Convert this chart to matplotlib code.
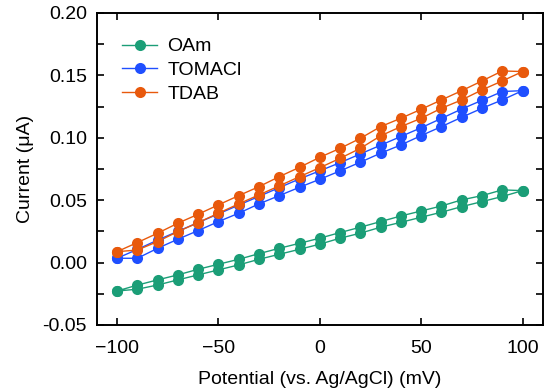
import matplotlib
matplotlib.use("Agg")
import matplotlib.pyplot as plt
from matplotlib.ticker import MultipleLocator, FixedLocator

plt.rcParams['font.family'] = ['Liberation Sans', 'DejaVu Sans']

potential = [-100, -90, -80, -70, -60, -50, -40, -30, -20, -10, 0,
             10, 20, 30, 40, 50, 60, 70, 80, 90, 100]

oam_fwd = [-0.0228, -0.0214, -0.0180, -0.0139, -0.0099, -0.0059, -0.0019, 0.0026, 0.0066, 0.0106, 0.0147,
           0.0195, 0.0235, 0.0283, 0.0322, 0.0363, 0.0403, 0.0448, 0.0488, 0.0529, 0.0576]
oam_rev = [-0.0228, -0.0181, -0.0139, -0.0099, -0.0054, -0.0014, 0.0026, 0.0071, 0.0114, 0.0154, 0.0195,
           0.0240, 0.0283, 0.0328, 0.0373, 0.0413, 0.0453, 0.0502, 0.0536, 0.0582, 0.0576]

tomacl_fwd = [0.0034, 0.0034, 0.0114, 0.0187, 0.0256, 0.0328, 0.0395, 0.0470, 0.0536, 0.0603, 0.0667,
              0.0734, 0.0804, 0.0876, 0.0942, 0.1017, 0.1089, 0.1164, 0.1236, 0.1303, 0.1377]
tomacl_rev = [0.0034, 0.0105, 0.0180, 0.0250, 0.0320, 0.0390, 0.0460, 0.0530, 0.0600, 0.0670, 0.0735,
              0.0800, 0.0870, 0.0940, 0.1010, 0.1080, 0.1155, 0.1230, 0.1300, 0.1370, 0.1377]

tdab_fwd = [0.0087, 0.0100, 0.0168, 0.0248, 0.0320, 0.0395, 0.0470, 0.0542, 0.0614, 0.0688, 0.0760,
            0.0835, 0.0915, 0.1015, 0.1089, 0.1156, 0.1236, 0.1303, 0.1383, 0.1455, 0.1530]
tdab_rev = [0.0087, 0.0160, 0.0235, 0.0315, 0.0387, 0.0462, 0.0536, 0.0608, 0.0688, 0.0763, 0.0843,
            0.0915, 0.0995, 0.1089, 0.1156, 0.1228, 0.1303, 0.1377, 0.1455, 0.1535, 0.1530]

series = [
    ("OAm", oam_fwd, oam_rev, "#1b9e77"),
    ("TOMACl", tomacl_fwd, tomacl_rev, "#1f4fff"),
    ("TDAB", tdab_fwd, tdab_rev, "#e8590c"),
]

fig = plt.figure(figsize=(5.5, 3.91), dpi=100)
ax = fig.add_axes([0.176, 0.169, 0.811, 0.798])

for name, fwd, rev, color in series:
    xs = potential + potential[::-1]
    ys = fwd + rev[::-1]
    ax.plot(xs, ys, '-o', color=color, lw=1.0, markersize=8,
            markeredgewidth=0, label=name)

ax.set_xlim(-110, 110)
ax.set_ylim(-0.05, 0.20)
ax.xaxis.set_major_locator(FixedLocator([-100, -50, 0, 50, 100]))
ax.yaxis.set_major_locator(MultipleLocator(0.05))
ax.yaxis.set_minor_locator(MultipleLocator(0.025))
ax.set_yticklabels([f"{v:.2f}" for v in ax.get_yticks()])
ax.tick_params(which='both', direction='in', top=True, right=True,
               length=5, width=1.2, labelsize=14)
ax.tick_params(axis='y', pad=7)
ax.tick_params(axis='x', pad=11)
for s in ax.spines.values():
    s.set_linewidth(1.4)

ax.set_xlabel("Potential (vs. Ag/AgCl) (mV)", fontsize=14, labelpad=10)
ax.set_ylabel("Current (μA)", fontsize=14, labelpad=6)

ax.legend(loc='upper left', frameon=False, fontsize=14, handlelength=1.8,
          handletextpad=0.5, borderaxespad=0.0, labelspacing=0.32,
          bbox_to_anchor=(0.04, 0.945))

fig.savefig("out.png", dpi=100)
